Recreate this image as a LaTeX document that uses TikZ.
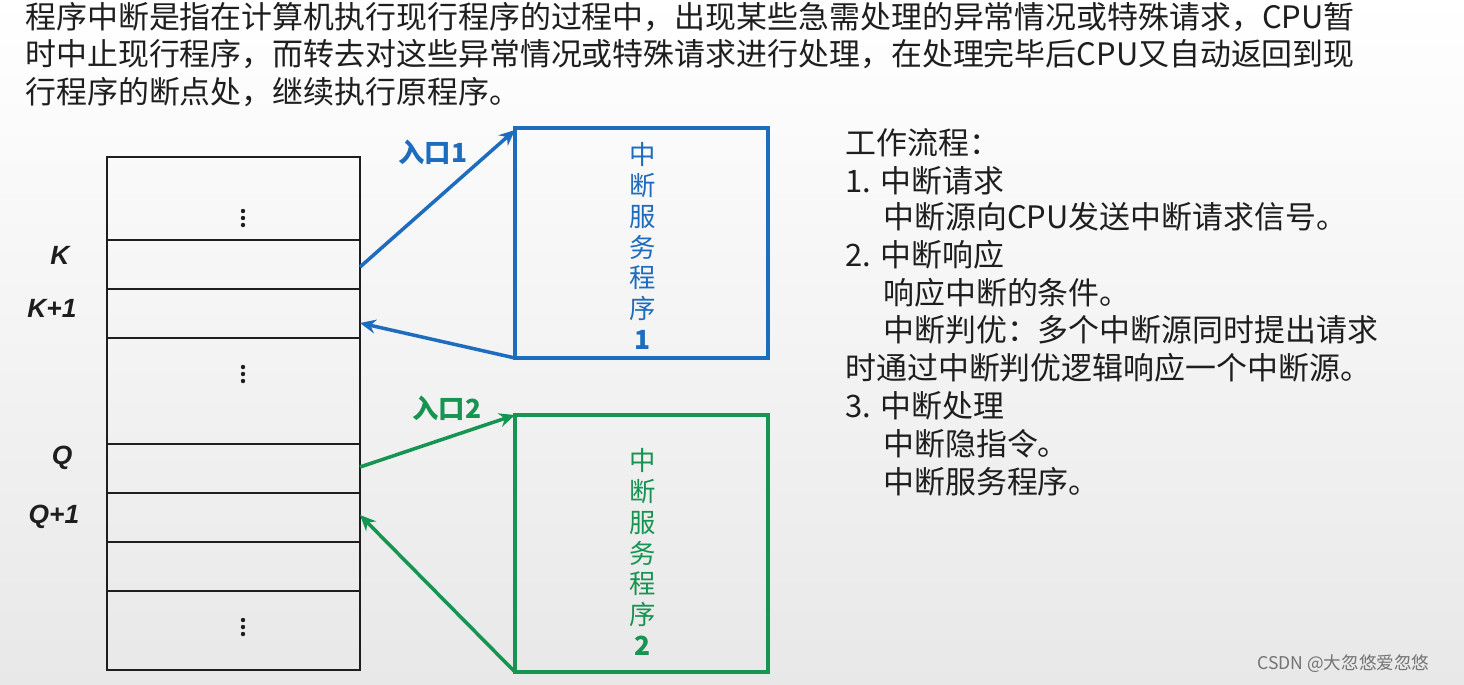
\documentclass[tikz,border=0pt]{standalone}
\usepackage{fontspec}
\setmainfont{Noto Sans CJK SC}
\newfontfamily\latn{Liberation Sans}
\usetikzlibrary{arrows.meta}
\definecolor{bl}{RGB}{30,108,190}
\definecolor{gr}{RGB}{22,148,82}
\definecolor{tx}{RGB}{30,30,30}
\tikzset{
  cell/.style={draw=tx,line width=1.6pt},
  lab/.style={font=\latn\bfseries\itshape\fontsize{15}{15}\selectfont,text=tx},
  body/.style={font=\fontsize{17.6}{17.6}\selectfont,text=tx,anchor=west,inner sep=0pt},
  arr/.style={line width=2pt,-{Stealth[length=9pt,width=8pt]}},
  vtext/.style={font=\fontsize{15}{17.5}\selectfont,align=center,inner sep=0pt}
}
\begin{document}
\begin{tikzpicture}[x=0.02cm,y=-0.02cm]
\useasboundingbox (0,0) rectangle (1464,684);
\shade[top color=white,bottom color=black!9] (0,0) rectangle (1464,684);
% top text
\node[body] (t1) at (25,17) {程序中断是指在计算机执行现行程序的过程中，出现某些急需处理的异常情况或特殊请求，CPU暂};
\node[body] (t2) at (25,54) {时中止现行程序，而转去对这些异常情况或特殊请求进行处理，在处理完毕后CPU又自动返回到现};
\node[body] (t3) at (25,92) {行程序的断点处，继续执行原程序。};
% stack
\draw[cell] (107,157) rectangle (360,670);
\foreach \y in {240,289,338,444,493,542,591} \draw[cell] (107,\y) -- (360,\y);
\foreach \y in {218,374,627} \foreach \d in {-7,0,7} \fill[tx] (243,\y+\d) circle (2.2);
\node[lab] (k) at (60,255) {K};
\node[lab] (k1) at (52,308) {K+1};
\node[lab] (q) at (62,458) {Q};
\node[lab] (q1) at (54,517) {Q+1};
\coordinate (kr) at (360,267);
\coordinate (k1r) at (360,323);
\coordinate (qr) at (360,467);
\coordinate (q1r) at (360,515);
% boxes
\draw[bl,line width=2.4pt] (515,128) rectangle (768,358);
\node[vtext,text=bl] (s1) at (643,246) {中\\断\\服\\务\\程\\序\\\textbf{1}};
\draw[gr,line width=2.4pt] (515,415) rectangle (768,672);
\node[vtext,text=gr] (s2) at (643,552) {中\\断\\服\\务\\程\\序\\\textbf{2}};
\coordinate (b1t) at (515,130);
\coordinate (b1b) at (515,358);
\coordinate (b2t) at (515,415);
\coordinate (b2b) at (515,672);
\draw[arr,bl] (kr) -- (b1t);
\draw[arr,bl] (b1b) -- (k1r);
\draw[arr,gr] (qr) -- (b2t);
\draw[arr,gr] (b2b) -- (q1r);
\node[font=\bfseries\fontsize{15}{15}\selectfont,text=bl] (e1) at (433,152) {入口1};
\node[font=\bfseries\fontsize{15}{15}\selectfont,text=gr] (e2) at (447,408) {入口2};
% right text
\node[body] (r1) at (845,143) {工作流程：};
\node[body] (r2) at (845,181) {1. 中断请求};
\node[body] (r3) at (883,217) {中断源向CPU发送中断请求信号。};
\node[body] (r4) at (845,255) {2. 中断响应};
\node[body] (r5) at (883,293) {响应中断的条件。};
\node[body] (r6) at (883,330) {中断判优：多个中断源同时提出请求};
\node[body] (r7) at (845,368) {时通过中断判优逻辑响应一个中断源。};
\node[body] (r8) at (845,406) {3. 中断处理};
\node[body] (r9) at (883,444) {中断隐指令。};
\node[body] (r10) at (883,482) {中断服务程序。};
\node[body,font=\fontsize{10}{10}\selectfont,text=black!55] (wm) at (1257,664) {CSDN @大忽悠爱忽悠};
\end{tikzpicture}
\end{document}
